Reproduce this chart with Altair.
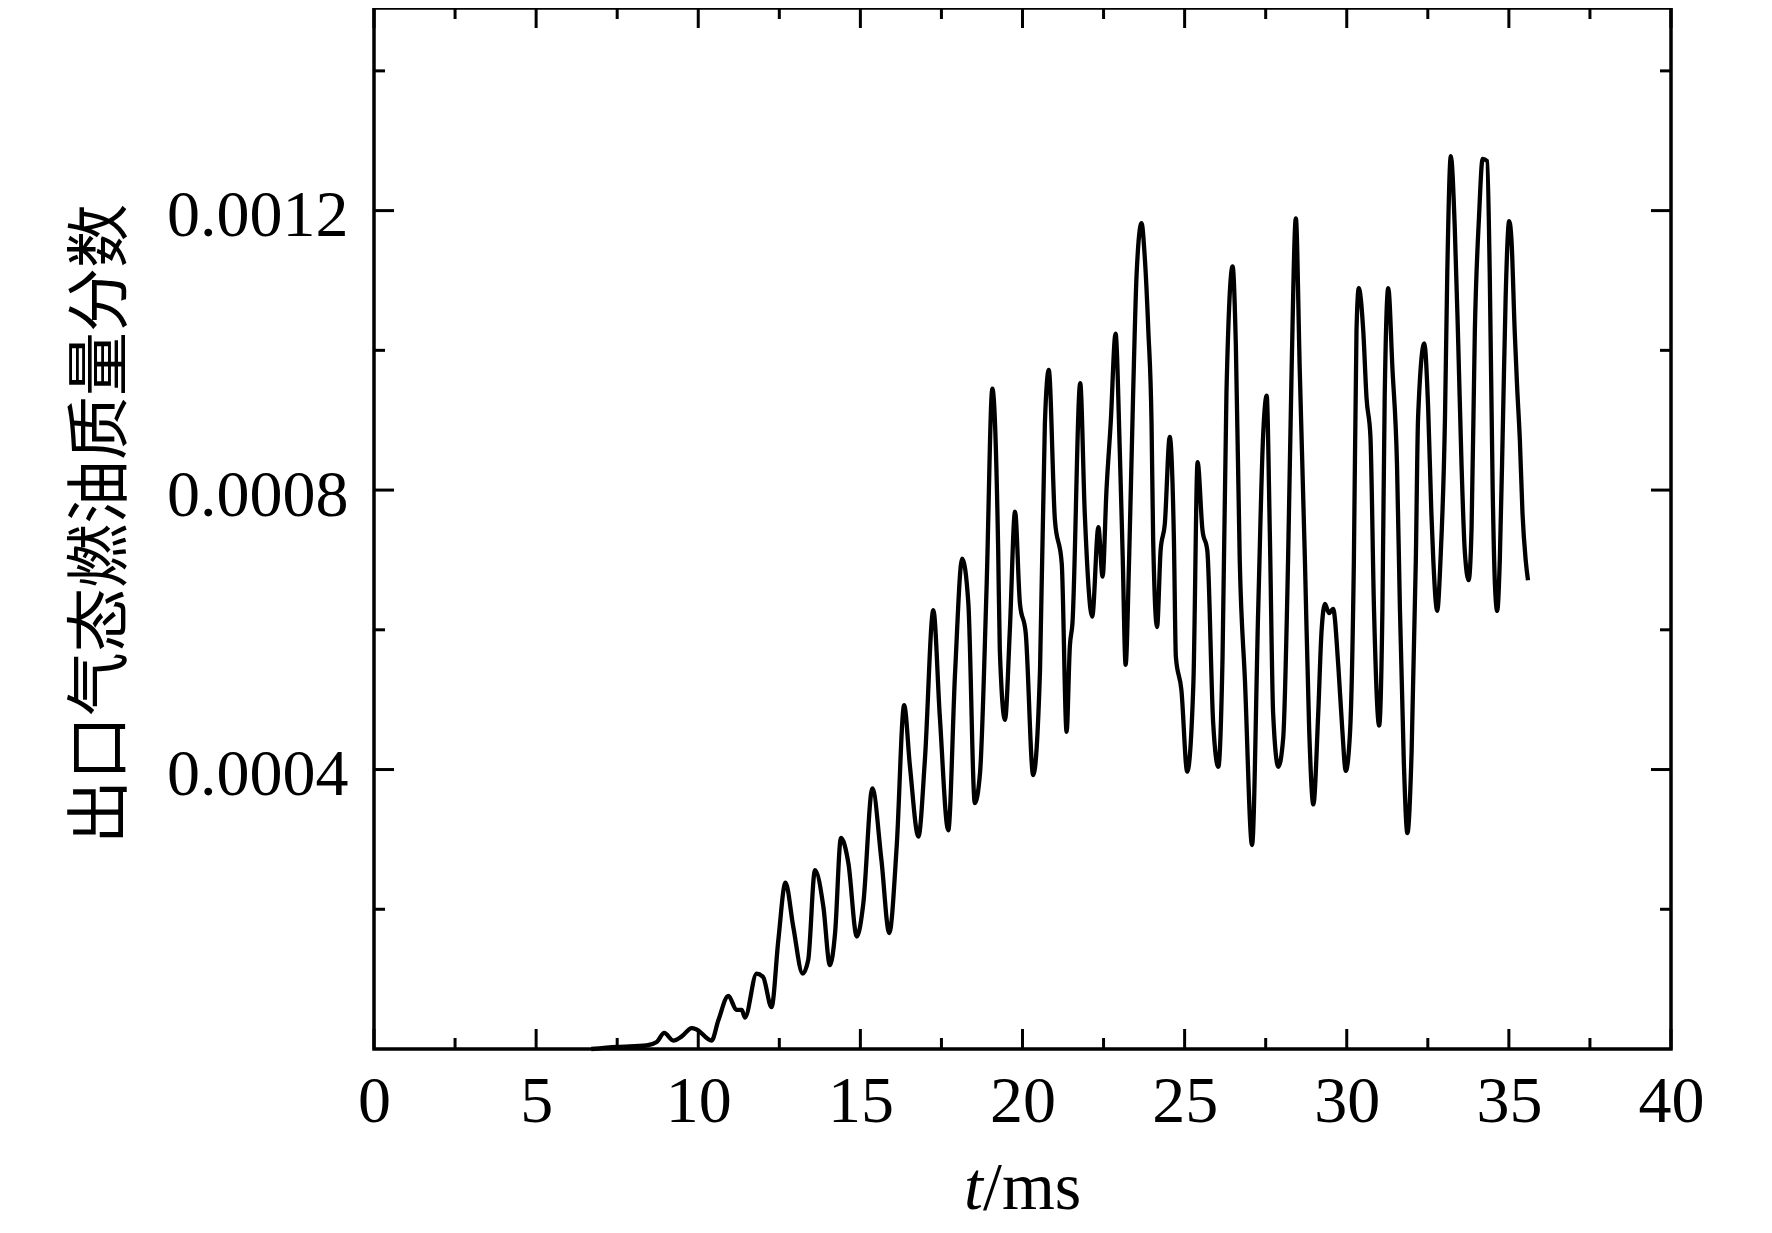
import altair as alt
import pandas as pd

# ---- data ----
t_ms = [6.7, 7.5, 8.4, 8.72, 8.95, 9.23, 9.49, 9.8, 9.95, 10.41, 10.62, 10.93, 11.18, 11.34, 11.44,
        11.8, 12.0, 12.26, 12.47, 12.69, 12.93, 13.22, 13.39, 13.6, 13.86, 14.06, 14.22, 14.4, 14.63,
        14.89, 15.09, 15.37, 15.65, 15.89, 16.12, 16.35, 16.53, 16.79, 16.99, 17.25, 17.45, 17.71,
        17.92, 18.14, 18.33, 18.53, 18.69, 18.89, 19.07, 19.25, 19.3, 19.46, 19.61, 19.77, 19.92,
        20.1, 20.33, 20.54, 20.69, 20.81, 21.0, 21.21, 21.36, 21.46, 21.54, 21.78, 21.92, 22.15,
        22.34, 22.47, 22.59, 22.72, 22.87, 23.0, 23.09, 23.18, 23.29, 23.41, 23.52, 23.67, 23.77,
        23.88, 23.98, 24.03, 24.15, 24.26, 24.39, 24.54, 24.67, 24.73, 24.9, 25.08, 25.27, 25.4,
        25.55, 25.7, 25.88, 26.04, 26.17, 26.29, 26.48, 26.58, 26.7, 26.86, 27.08, 27.27, 27.42,
        27.53, 27.63, 27.73, 27.89, 28.04, 28.19, 28.3, 28.43, 28.55, 28.71, 28.84, 28.97, 29.12,
        29.22, 29.33, 29.45, 29.58, 29.74, 29.86, 29.97, 30.1, 30.22, 30.3, 30.37, 30.51, 30.61,
        30.73, 30.84, 31.0, 31.1, 31.17, 31.28, 31.41, 31.55, 31.64, 31.76, 31.87, 32.0, 32.13,
        32.2, 32.39, 32.51, 32.61, 32.67, 32.79, 32.89, 33.03, 33.1, 33.21, 33.33, 33.44, 33.54,
        33.64, 33.76, 33.85, 33.95, 34.08, 34.19, 34.33, 34.41, 34.5, 34.57, 34.64, 34.72, 34.82,
        34.9, 35.01, 35.08, 35.18, 35.25, 35.34, 35.42, 35.52, 35.59]

mass_fraction = [0.0, 0.000003, 0.000005, 0.00001, 0.000023, 0.000012, 0.000018, 0.00003, 0.000028,
                 0.000012, 0.000041, 0.000076, 0.000056, 0.000056, 0.000045, 0.000108, 0.000103,
                 0.00006, 0.000156, 0.000238, 0.000175, 0.000108, 0.000127, 0.000256, 0.000203,
                 0.00012, 0.000166, 0.000302, 0.000266, 0.000161, 0.000208, 0.000373, 0.00027,
                 0.000166, 0.00029, 0.000492, 0.000404, 0.000304, 0.000414, 0.000628, 0.000476,
                 0.000313, 0.000538, 0.000702, 0.000638, 0.000352, 0.000395, 0.000657, 0.000945,
                 0.000714, 0.000572, 0.000471, 0.0006, 0.000769, 0.000638, 0.000595, 0.000392,
                 0.000542, 0.000895, 0.000972, 0.000757, 0.000695, 0.000454, 0.000576, 0.000609,
                 0.000953, 0.000767, 0.000619, 0.000747, 0.000676, 0.0008, 0.000896, 0.001024,
                 0.000857, 0.000705, 0.00055, 0.000705, 0.000934, 0.00111, 0.001182, 0.001134,
                 0.001029, 0.000895, 0.000728, 0.000604, 0.000714, 0.000752, 0.000876, 0.000728,
                 0.000561, 0.000514, 0.000397, 0.000523, 0.00084, 0.000743, 0.000713, 0.000467,
                 0.000404, 0.000562, 0.000939, 0.00112, 0.001007, 0.000699, 0.000528, 0.000292,
                 0.00063, 0.000877, 0.000935, 0.000733, 0.00048, 0.000404, 0.000445, 0.000699,
                 0.000973, 0.001189, 0.000973, 0.000699, 0.000459, 0.00035, 0.00048, 0.000596,
                 0.000637, 0.000624, 0.00063, 0.000548, 0.000459, 0.000398, 0.000452, 0.000699,
                 0.001027, 0.001089, 0.001027, 0.000932, 0.000877, 0.00063, 0.000463, 0.00063,
                 0.000932, 0.001089, 0.000973, 0.000836, 0.00063, 0.000411, 0.000309, 0.000425,
                 0.000699, 0.000904, 0.00101, 0.000918, 0.000767, 0.000699, 0.000627, 0.000699,
                 0.000904, 0.00111, 0.001278, 0.001178, 0.001007, 0.000836, 0.000713, 0.000671,
                 0.000747, 0.001027, 0.001192, 0.001274, 0.001271, 0.00111, 0.000802, 0.000665,
                 0.000627, 0.000699, 0.000904, 0.001075, 0.001185, 0.001158, 0.001027, 0.000952,
                 0.00087, 0.000767, 0.000699, 0.000671]

x_major = [0, 5, 10, 15, 20, 25, 30, 35, 40]
x_minor = [2.5, 7.5, 12.5, 17.5, 22.5, 27.5, 32.5, 37.5]
y_major = [0.0004, 0.0008, 0.0012]
y_minor = [0.0002, 0.0006, 0.0010, 0.0014]
y_title = "出口气态燃油质量分数"
x_title_parts = ["t", "/ms"]

# ---- layout ----
W, H = 1297, 1041
MAJ, MIN = 20, 11
SERIF = "Liberation Serif"

xs = alt.Scale(domain=[0, 40], nice=False, zero=False)
ys = alt.Scale(domain=[0, 0.00149], nice=False, zero=False)

x_axis = alt.Axis(values=x_major, format="d", title=None, labelFont=SERIF, labelFontSize=66,
                  labelColor="black", labelPadding=20, ticks=False, tickSize=0, domain=False,
                  grid=False, labelFlush=False, labelOverlap=False, labelLimit=0)
y_axis = alt.Axis(values=y_major, format=".4f", title=y_title, labelFont=SERIF, labelFontSize=66,
                  labelColor="black", labelPadding=26, labelOffset=5, ticks=False, tickSize=0,
                  domain=False, grid=False, labelFlush=False, labelOverlap=False, labelLimit=0,
                  titleFont="Noto Sans CJK SC", titleFontSize=64, titleFontWeight="normal",
                  titleColor="black", titleX=-273, titleY=H / 2 - 5, titleAngle=270,
                  titleAlign="center", titleBaseline="middle", titleLimit=0)

X = alt.X("t:Q", scale=xs, axis=x_axis)
Y = alt.Y("v:Q", scale=ys, axis=y_axis)

line = alt.Chart(pd.DataFrame({"t": t_ms, "v": mass_fraction})).mark_line(
    color="black", strokeWidth=4.3, interpolate="monotone").encode(x=X, y=Y)

def xticks(vals, length):
    df = pd.DataFrame({"t": vals})
    bottom = alt.Chart(df).mark_rule(color="black", strokeWidth=3).encode(
        x=X, y=alt.value(H), y2=alt.value(H - length))
    top = alt.Chart(df).mark_rule(color="black", strokeWidth=3).encode(
        x=X, y=alt.value(0), y2=alt.value(length))
    return [bottom, top]

def yticks(vals, length):
    df = pd.DataFrame({"v": vals})
    left = alt.Chart(df).mark_rule(color="black", strokeWidth=3).encode(
        y=Y, x=alt.value(0), x2=alt.value(length))
    right = alt.Chart(df).mark_rule(color="black", strokeWidth=3).encode(
        y=Y, x=alt.value(W), x2=alt.value(W - length))
    return [left, right]

title_df = pd.DataFrame({"label": x_title_parts})
t_txt = alt.Chart(title_df[title_df.label == "t"]).mark_text(
    font=SERIF, fontSize=68, fontStyle="italic", align="right", baseline="alphabetic",
    color="black").encode(text="label:N", x=alt.value(609), y=alt.value(1201))
ms_txt = alt.Chart(title_df[title_df.label == "/ms"]).mark_text(
    font=SERIF, fontSize=68, align="left", baseline="alphabetic",
    color="black").encode(text="label:N", x=alt.value(609), y=alt.value(1201))

layers = [line] + xticks(x_major, MAJ) + xticks(x_minor, MIN) + yticks(y_major, MAJ) + \
    yticks(y_minor, MIN) + [t_txt, ms_txt]

chart = alt.layer(*layers).properties(
    width=W, height=H,
    autosize=alt.AutoSizeParams(type="none"),
    padding={"left": 366, "top": 0, "right": 45, "bottom": 176},
    background="white",
).configure_view(stroke="black", strokeWidth=3.5)

chart.save("out.html", embed_options={"renderer": "svg", "actions": False})
